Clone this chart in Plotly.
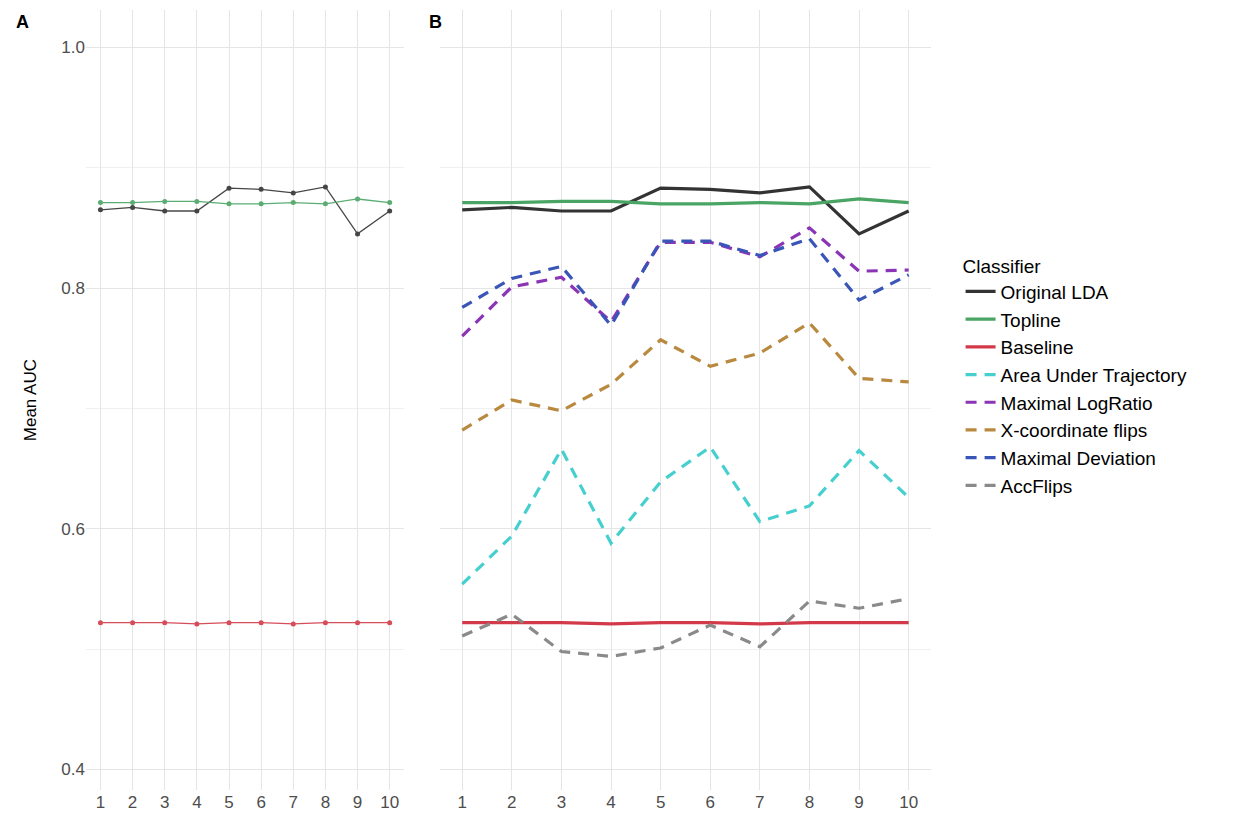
import plotly.graph_objects as go
from plotly.subplots import make_subplots

folds = list(range(1, 11))

original_lda = [0.865, 0.867, 0.864, 0.864, 0.883, 0.882, 0.879, 0.884, 0.845, 0.864]
topline = [0.871, 0.871, 0.872, 0.872, 0.870, 0.870, 0.871, 0.870, 0.874, 0.871]
baseline = [0.522, 0.522, 0.522, 0.521, 0.522, 0.522, 0.521, 0.522, 0.522, 0.522]
area_under_traj = [0.554, 0.594, 0.666, 0.588, 0.639, 0.668, 0.606, 0.619, 0.665, 0.626]
maximal_logratio = [0.760, 0.801, 0.809, 0.772, 0.838, 0.838, 0.826, 0.850, 0.814, 0.815]
xcoord_flips = [0.682, 0.707, 0.698, 0.720, 0.757, 0.735, 0.746, 0.771, 0.725, 0.722]
maximal_deviation = [0.784, 0.808, 0.818, 0.769, 0.839, 0.839, 0.827, 0.841, 0.790, 0.811]
acc_flips = [0.511, 0.529, 0.498, 0.494, 0.501, 0.520, 0.502, 0.540, 0.534, 0.542]

colors = {
    "Original LDA": "#333333",
    "Topline": "#4aa564",
    "Baseline": "#d33a49",
    "Area Under Trajectory": "#45d0cf",
    "Maximal LogRatio": "#8a35b5",
    "X-coordinate flips": "#b8893e",
    "Maximal Deviation": "#3a55b8",
    "AccFlips": "#8a8a8a",
}

fig = make_subplots(rows=1, cols=2, shared_yaxes=True)

# panel A: the three reference classifiers with markers
for name, vals in [("Original LDA", original_lda), ("Topline", topline), ("Baseline", baseline)]:
    fig.add_trace(go.Scatter(x=folds, y=vals, mode="lines+markers", name=name,
                             line=dict(color=colors[name], width=1.3),
                             marker=dict(size=5, color=colors[name]),
                             opacity=0.9, showlegend=False), row=1, col=1)

# panel B: everything
series = [
    ("Original LDA", original_lda, "solid"),
    ("Topline", topline, "solid"),
    ("Baseline", baseline, "solid"),
    ("Area Under Trajectory", area_under_traj, "dash"),
    ("Maximal LogRatio", maximal_logratio, "dash"),
    ("X-coordinate flips", xcoord_flips, "dash"),
    ("Maximal Deviation", maximal_deviation, "dash"),
    ("AccFlips", acc_flips, "dash"),
]
for name, vals, dash in series:
    fig.add_trace(go.Scatter(x=folds, y=vals, mode="lines", name=name,
                             line=dict(color=colors[name], width=3.2,
                                       dash="11px,8px" if dash == "dash" else dash)),
                  row=1, col=2)

axis_style = dict(showgrid=True, gridcolor="#e5e5e5", gridwidth=1.3, zeroline=False,
                  showline=False, ticks="", tickfont=dict(size=17, color="#4d4d4d"))
fig.update_xaxes(**axis_style, tickvals=folds, range=[0.55, 10.45])
fig.update_xaxes(domain=[0, 0.3765], row=1, col=1)
fig.update_xaxes(domain=[0.4188, 1], row=1, col=2)
fig.update_yaxes(**axis_style, range=[0.383, 1.031], tickvals=[0.4, 0.6, 0.8, 1.0],
                 ticktext=["0.4", "0.6", "0.8", "1.0"],
                 minor=dict(tickvals=[0.5, 0.7, 0.9], showgrid=True, gridcolor="#f0f0f0"))

fig.add_annotation(text="Mean AUC", x=30, y=0.5, xref="paper", yref="paper", textangle=-90,
                   showarrow=False, font=dict(size=17, color="black"))
fig.layout.annotations = []
fig.add_annotation(text="Mean AUC", x=-0.066, y=0.5, xref="paper", yref="paper", textangle=-90,
                   showarrow=False, font=dict(size=17, color="black"), xanchor="center")
fig.add_annotation(text="<b>A</b>", x=-0.075, y=1.0, xref="paper", yref="paper",
                   showarrow=False, font=dict(size=18, color="black"), xanchor="center")
fig.add_annotation(text="<b>B</b>", x=0.414, y=1.0, xref="paper", yref="paper",
                   showarrow=False, font=dict(size=18, color="black"), xanchor="center")

fig.update_layout(
    width=1247, height=836,
    margin=dict(l=78, r=324, t=2, b=54),
    plot_bgcolor="white", paper_bgcolor="white",
    font=dict(family="Liberation Sans, Arial, sans-serif"),
    legend=dict(title=dict(text="Classifier", font=dict(size=19)), font=dict(size=19, color="black"),
                x=1.035, y=0.695, xanchor="left", yanchor="top", tracegroupgap=0,
                itemwidth=30),
)

fig.write_html("out.html")
